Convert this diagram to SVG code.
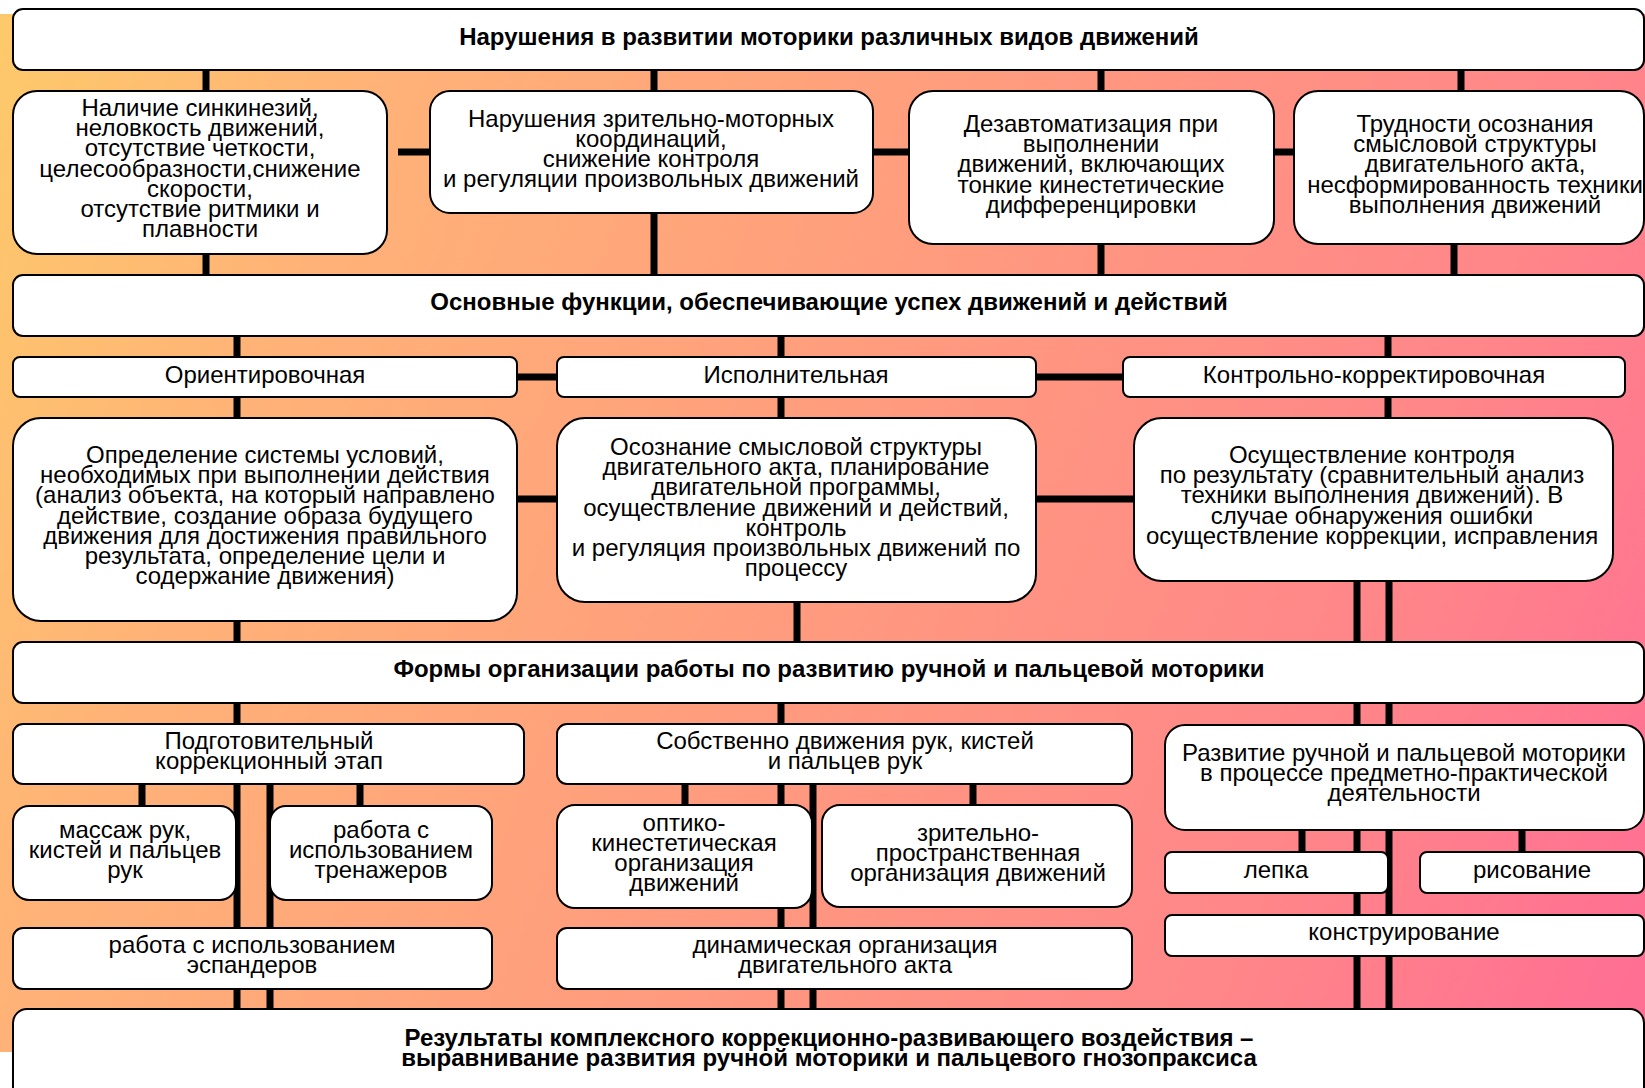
<svg xmlns="http://www.w3.org/2000/svg" width="1645" height="1088" viewBox="0 0 1645 1088">
<defs>
<linearGradient id="bg" gradientUnits="userSpaceOnUse" x1="0" y1="0" x2="1790" y2="716">
<stop offset="0" stop-color="#FDCA6A"/>
<stop offset="0.2" stop-color="#FFB277"/>
<stop offset="0.45" stop-color="#FF9F7C"/>
<stop offset="0.8" stop-color="#FF848A"/>
<stop offset="1" stop-color="#FF6C94"/>
</linearGradient>
<style>
.b{fill:#fff;stroke:#000;stroke-width:2}
.t{font-family:"Liberation Sans",Arial,sans-serif;font-size:24px;fill:#000;text-anchor:middle}
.h{font-weight:bold}
.c{stroke:#000;stroke-width:7;fill:none}
</style>
</defs>
<rect x="0" y="0" width="1645" height="1088" fill="#fff"/>
<rect x="0" y="14" width="1645" height="1038" fill="url(#bg)"/>

<g id="connectors" class="c">
<path d="M206 70V91M206 254V275M654 70V91M654 213V275M1101 70V91M1101 244V275M1461 70V91M1454 244V275"/>
<path d="M398 152H429M873 152H908M1274 152H1293"/>
<path d="M237 336V418M781 336V418M1388 336V418"/>
<path d="M517 377H557M1036 377H1123M517 499H557M1036 499H1134"/>
<path d="M237 621V724M797 602V642M781 642V724M1357 580V1009M1389 580V1009"/>
<path d="M142 784V806M360 784V806M237 784V1009M270 784V1009"/>
<path d="M685 784V806M973 784V806M781 784V1009M813 784V1009"/>
<path d="M1302 829V852M1522 829V852"/>
</g>

<g id="n1"><rect class="b" x="13" y="9" width="1631" height="61" rx="10"/>
<text class="t h" x="829" y="44.5">Нарушения в развитии моторики различных видов движений</text></g>

<g id="n2"><rect class="b" x="13" y="91" width="374" height="163" rx="24"/>
<text class="t" y="116"><tspan x="200">Наличие синкинезий,</tspan><tspan x="200" dy="20.2">неловкость движений,</tspan><tspan x="200" dy="20.2">отсутствие четкости,</tspan><tspan x="200" dy="20.2">целесообразности,снижение</tspan><tspan x="200" dy="20.2">скорости,</tspan><tspan x="200" dy="20.2">отсутствие ритмики и</tspan><tspan x="200" dy="20.2">плавности</tspan></text></g>

<g id="n3"><rect class="b" x="430" y="91" width="443" height="122" rx="20"/>
<text class="t" y="126.5"><tspan x="651">Нарушения зрительно-моторных</tspan><tspan x="651" dy="20.2">координаций,</tspan><tspan x="651" dy="20.2">снижение контроля</tspan><tspan x="651" dy="20.2">и регуляции произвольных движений</tspan></text></g>

<g id="n4"><rect class="b" x="909" y="91" width="365" height="153" rx="24"/>
<text class="t" y="132"><tspan x="1091">Дезавтоматизация при</tspan><tspan x="1091" dy="20.2">выполнении</tspan><tspan x="1091" dy="20.2">движений, включающих</tspan><tspan x="1091" dy="20.2">тонкие кинестетические</tspan><tspan x="1091" dy="20.2">дифференцировки</tspan></text></g>

<g id="n5"><rect class="b" x="1294" y="91" width="350" height="153" rx="24"/>
<text class="t" y="132"><tspan x="1475">Трудности осознания</tspan><tspan x="1475" dy="20.2">смысловой структуры</tspan><tspan x="1475" dy="20.2">двигательного акта,</tspan><tspan x="1475" dy="20.2">несформированность техники</tspan><tspan x="1475" dy="20.2">выполнения движений</tspan></text></g>

<g id="n6"><rect class="b" x="13" y="275" width="1631" height="61" rx="10"/>
<text class="t h" x="829" y="310">Основные функции, обеспечивающие успех движений и действий</text></g>

<g id="n7"><rect class="b" x="13" y="357" width="504" height="40" rx="7"/>
<text class="t" x="265" y="382.5">Ориентировочная</text></g>
<g id="n8"><rect class="b" x="557" y="357" width="479" height="40" rx="7"/>
<text class="t" x="796" y="382.5">Исполнительная</text></g>
<g id="n9"><rect class="b" x="1123" y="357" width="502" height="40" rx="7"/>
<text class="t" x="1374" y="382.5">Контрольно-корректировочная</text></g>

<g id="n10"><rect class="b" x="13" y="418" width="504" height="203" rx="28"/>
<text class="t" y="463"><tspan x="265">Определение системы условий,</tspan><tspan x="265" dy="20.2">необходимых при выполнении действия</tspan><tspan x="265" dy="20.2">(анализ объекта, на который направлено</tspan><tspan x="265" dy="20.2">действие, создание образа будущего</tspan><tspan x="265" dy="20.2">движения для достижения правильного</tspan><tspan x="265" dy="20.2">результата, определение цели и</tspan><tspan x="265" dy="20.2">содержание движения)</tspan></text></g>

<g id="n11"><rect class="b" x="557" y="418" width="479" height="184" rx="28"/>
<text class="t" y="455"><tspan x="796">Осознание смысловой структуры</tspan><tspan x="796" dy="20.2">двигательного акта, планирование</tspan><tspan x="796" dy="20.2">двигательной программы,</tspan><tspan x="796" dy="20.2">осуществление движений и действий,</tspan><tspan x="796" dy="20.2">контроль</tspan><tspan x="796" dy="20.2">и регуляция произвольных движений по</tspan><tspan x="796" dy="20.2">процессу</tspan></text></g>

<g id="n12"><rect class="b" x="1134" y="418" width="479" height="163" rx="28"/>
<text class="t" y="463"><tspan x="1372">Осуществление контроля</tspan><tspan x="1372" dy="20.2">по результату (сравнительный анализ</tspan><tspan x="1372" dy="20.2">техники выполнения движений). В</tspan><tspan x="1372" dy="20.2">случае обнаружения ошибки</tspan><tspan x="1372" dy="20.2">осуществление коррекции, исправления</tspan></text></g>

<g id="n13"><rect class="b" x="13" y="642" width="1631" height="61" rx="10"/>
<text class="t h" x="829" y="677">Формы организации работы по развитию ручной и пальцевой моторики</text></g>

<g id="n14"><rect class="b" x="13" y="724" width="511" height="60" rx="10"/>
<text class="t" y="749"><tspan x="269">Подготовительный</tspan><tspan x="269" dy="20.2">коррекционный этап</tspan></text></g>
<g id="n15"><rect class="b" x="557" y="724" width="575" height="60" rx="10"/>
<text class="t" y="749"><tspan x="845">Собственно движения рук, кистей</tspan><tspan x="845" dy="20.2">и пальцев рук</tspan></text></g>
<g id="n16"><rect class="b" x="1165" y="725" width="479" height="105" rx="20"/>
<text class="t" y="761"><tspan x="1404">Развитие ручной и пальцевой моторики</tspan><tspan x="1404" dy="20.2">в процессе предметно-практической</tspan><tspan x="1404" dy="20.2">деятельности</tspan></text></g>

<g id="n17"><rect class="b" x="13" y="806" width="223" height="94" rx="16"/>
<text class="t" y="838"><tspan x="125">массаж рук,</tspan><tspan x="125" dy="20.2">кистей и пальцев</tspan><tspan x="125" dy="20.2">рук</tspan></text></g>
<g id="n18"><rect class="b" x="270" y="806" width="222" height="94" rx="16"/>
<text class="t" y="838"><tspan x="381">работа с</tspan><tspan x="381" dy="20.2">использованием</tspan><tspan x="381" dy="20.2">тренажеров</tspan></text></g>
<g id="n19"><rect class="b" x="557" y="805" width="255" height="103" rx="18"/>
<text class="t" y="830.5"><tspan x="684">оптико-</tspan><tspan x="684" dy="20.2">кинестетическая</tspan><tspan x="684" dy="20.2">организация</tspan><tspan x="684" dy="20.2">движений</tspan></text></g>
<g id="n20"><rect class="b" x="822" y="805" width="310" height="102" rx="18"/>
<text class="t" y="841"><tspan x="978">зрительно-</tspan><tspan x="978" dy="20.2">пространственная</tspan><tspan x="978" dy="20.2">организация движений</tspan></text></g>
<g id="n21"><rect class="b" x="1165" y="852" width="223" height="41" rx="7"/>
<text class="t" x="1276" y="878">лепка</text></g>
<g id="n22"><rect class="b" x="1420" y="852" width="224" height="41" rx="7"/>
<text class="t" x="1532" y="878">рисование</text></g>
<g id="n23"><rect class="b" x="1165" y="915" width="479" height="41" rx="7"/>
<text class="t" x="1404" y="940">конструирование</text></g>

<g id="n24"><rect class="b" x="13" y="928" width="479" height="61" rx="10"/>
<text class="t" y="953"><tspan x="252">работа с использованием</tspan><tspan x="252" dy="20.2">эспандеров</tspan></text></g>
<g id="n25"><rect class="b" x="557" y="928" width="575" height="61" rx="10"/>
<text class="t" y="953"><tspan x="845">динамическая организация</tspan><tspan x="845" dy="20.2">двигательного акта</tspan></text></g>

<g id="n26"><rect class="b" x="13" y="1009" width="1631" height="100" rx="14"/>
<text class="t h" y="1045.5"><tspan x="829">Результаты комплексного коррекционно-развивающего воздействия –</tspan><tspan x="829" dy="20.2">выравнивание развития ручной моторики и пальцевого гнозопраксиса</tspan></text></g>
</svg>
